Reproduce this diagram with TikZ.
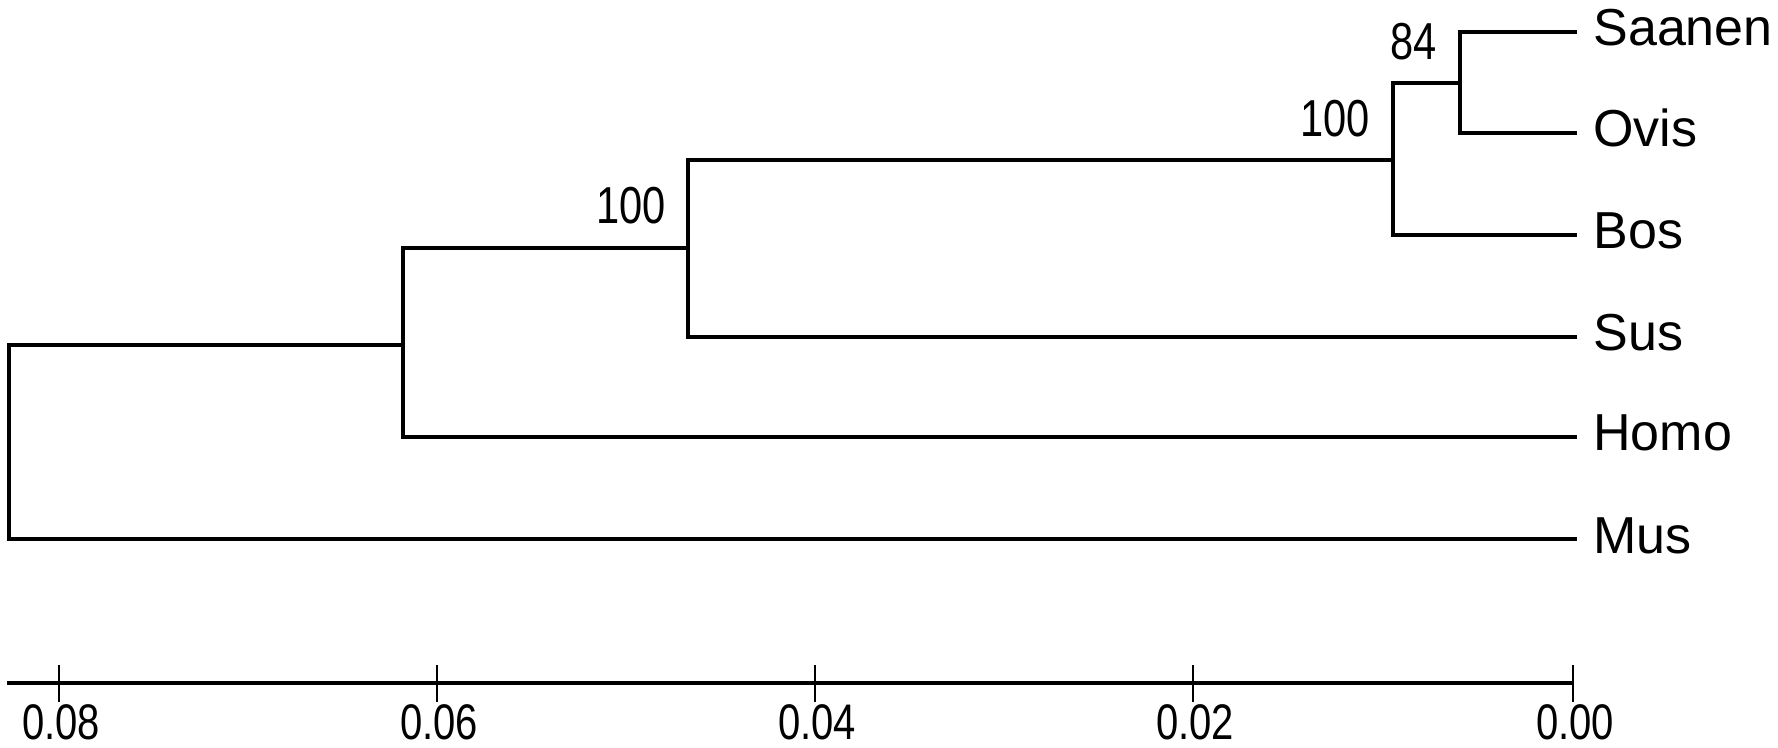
\documentclass[tikz,border=0pt]{standalone}
\usepackage{fontspec}
\usepackage{graphicx}
\setmainfont{Liberation Sans}
\newcommand{\narrowdig}[1]{\scalebox{0.8}[1]{#1}}
\begin{document}
\begin{tikzpicture}[x=0.5pt,y=-0.5pt,
  tree/.style={line width=2pt,line join=miter,line cap=rect},
  axisline/.style={line width=1.6pt},
  tickmark/.style={line width=1.1pt},
  leaflabel/.style={anchor=base west,inner sep=0pt,font=\fontsize{26}{26}\selectfont},
  bootlabel/.style={anchor=base east,inner sep=0pt,font=\fontsize{26}{26}\selectfont},
  scalelabel/.style={anchor=base,inner sep=0pt,font=\fontsize{25}{25}\selectfont}]
\useasboundingbox[fill=white] (0,0) rectangle (1778,748);
% leaf ends
\coordinate (eSaanen) at (1575,32);
\coordinate (eOvis) at (1575,133);
\coordinate (eBos) at (1575,235);
\coordinate (eSus) at (1575,337);
\coordinate (eHomo) at (1575,437);
\coordinate (eMus) at (1575,539);
% internal nodes
\coordinate (n84) at (1460,83);
\coordinate (n100r) at (1393,160);
\coordinate (n100) at (688,248);
\coordinate (n62) at (403,345);
\coordinate (root) at (9,442);
% branches
\draw[tree] (eSaanen) -| (n84) |- (eOvis);
\draw[tree] (n84) -| (n100r) |- (eBos);
\draw[tree] (n100r) -| (n100) |- (eSus);
\draw[tree] (n100) -| (n62) |- (eHomo);
\draw[tree] (n62) -| (root) |- (eMus);
% leaf labels
\node[leaflabel] (lSaanen) at (1593,46) {Saanen};
\node[leaflabel] (lOvis) at (1593,147) {Ovis};
\node[leaflabel] (lBos) at (1593,249) {Bos};
\node[leaflabel] (lSus) at (1593,351) {Sus};
\node[leaflabel] (lHomo) at (1593,451) {Homo};
\node[leaflabel] (lMus) at (1593,553) {Mus};
% bootstrap values
\node[bootlabel] (b84) at (1437,60) {\narrowdig{84}};
\node[bootlabel] (b100r) at (1370,137) {\narrowdig{100}};
\node[bootlabel] (b100) at (666,224) {\narrowdig{100}};
% scale axis
\coordinate (axL) at (7,683);
\coordinate (axR) at (1573,683);
\draw[axisline] (axL) -- (axR);
\foreach \xx/\lab [count=\i] in {59/0.08,437/0.06,815/0.04,1193/0.02,1573/0.00}{
  \coordinate (tt\i) at (\xx,665);
  \coordinate (tb\i) at (\xx,702);
  \draw[tickmark] (tt\i) -- (tb\i);
  \node[scalelabel] (s\i) at (\xx+2,739) {\narrowdig{\lab}};
}
\end{tikzpicture}
\end{document}
